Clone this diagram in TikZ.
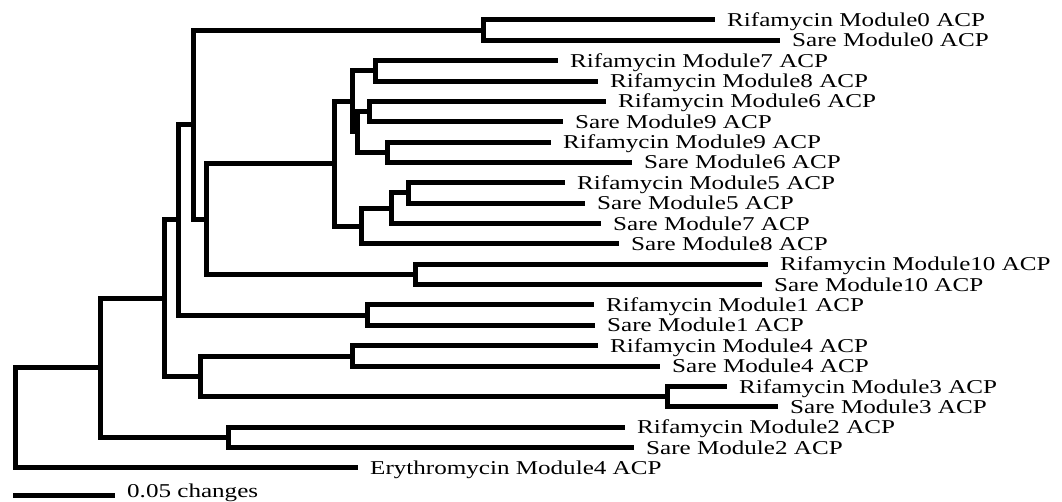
\documentclass[tikz,border=0pt]{standalone}
\usepackage{fontspec}
\setmainfont{Liberation Serif}[FakeStretch=1.28]
\usepackage{tikz}

\tikzset{
  branch/.style={black, line width=5pt},
  taxon/.style={anchor=base west, xshift=12pt, yshift=-6.5pt, font=\fontsize{19.6}{22}\selectfont}
}

\begin{document}
\begin{tikzpicture}[x=1pt, y=1pt]
    \tikzstyle{every node}+=[inner sep=0pt]
    \useasboundingbox (0,0) rectangle (1062,-502);
    % leaf ends
    \coordinate (rif0) at (715,-20);
    \coordinate (sare0) at (780,-40.4);
    \coordinate (rif7) at (558,-60.7);
    \coordinate (rif8) at (598,-81.1);
    \coordinate (rif6) at (606,-101.4);
    \coordinate (sare9) at (563,-121.8);
    \coordinate (rif9) at (551,-142.2);
    \coordinate (sare6) at (632,-162.5);
    \coordinate (rif5) at (565,-182.9);
    \coordinate (sare5) at (585,-203.2);
    \coordinate (sare7) at (601,-223.6);
    \coordinate (sare8) at (619,-244);
    \coordinate (rif10) at (768,-264.3);
    \coordinate (sare10) at (762,-284.7);
    \coordinate (rif1) at (594,-305);
    \coordinate (sare1) at (595,-325.4);
    \coordinate (rif4) at (598,-345.8);
    \coordinate (sare4) at (660,-366.1);
    \coordinate (rif3) at (727,-386.5);
    \coordinate (sare3) at (778,-406.8);
    \coordinate (rif2) at (625,-427.2);
    \coordinate (sare2) at (634,-447.6);
    \coordinate (ery4) at (358,-467.9);
    % inner nodes
    \coordinate (nM) at (483,-30.2);
    \coordinate (nO) at (375,-70.9);
    \coordinate (nP) at (369,-111.6);
    \coordinate (nQ) at (387,-152.4);
    \coordinate (nR) at (357,-132);
    \coordinate (nN) at (352,-101.4);
    \coordinate (nU) at (408,-193);
    \coordinate (nT) at (391,-208.3);
    \coordinate (nS) at (361,-226.2);
    \coordinate (nJ) at (334,-163.8);
    \coordinate (nK) at (415,-274.5);
    \coordinate (nI) at (206,-219.1);
    \coordinate (nD) at (193,-124.7);
    \coordinate (nL) at (367,-315.2);
    \coordinate (nC) at (178,-220);
    \coordinate (nG) at (352,-356);
    \coordinate (nH) at (667,-396.7);
    \coordinate (nF) at (200,-376.3);
    \coordinate (nB) at (164,-298.2);
    \coordinate (nE) at (228,-437.4);
    \coordinate (nA) at (100,-367.8);
    \coordinate (root) at (15,-417.9);
    % scale bar
    \coordinate (bar0) at (13,-495);
    \coordinate (bar1) at (115,-495);
    % taxa
    \node [taxon] (rif0 t) at (rif0) {Rifamycin Module0 ACP};
    \node [taxon] (sare0 t) at (sare0) {Sare Module0 ACP};
    \node [taxon] (rif7 t) at (rif7) {Rifamycin Module7 ACP};
    \node [taxon] (rif8 t) at (rif8) {Rifamycin Module8 ACP};
    \node [taxon] (rif6 t) at (rif6) {Rifamycin Module6 ACP};
    \node [taxon] (sare9 t) at (sare9) {Sare Module9 ACP};
    \node [taxon] (rif9 t) at (rif9) {Rifamycin Module9 ACP};
    \node [taxon] (sare6 t) at (sare6) {Sare Module6 ACP};
    \node [taxon] (rif5 t) at (rif5) {Rifamycin Module5 ACP};
    \node [taxon] (sare5 t) at (sare5) {Sare Module5 ACP};
    \node [taxon] (sare7 t) at (sare7) {Sare Module7 ACP};
    \node [taxon] (sare8 t) at (sare8) {Sare Module8 ACP};
    \node [taxon] (rif10 t) at (rif10) {Rifamycin Module10 ACP};
    \node [taxon] (sare10 t) at (sare10) {Sare Module10 ACP};
    \node [taxon] (rif1 t) at (rif1) {Rifamycin Module1 ACP};
    \node [taxon] (sare1 t) at (sare1) {Sare Module1 ACP};
    \node [taxon] (rif4 t) at (rif4) {Rifamycin Module4 ACP};
    \node [taxon] (sare4 t) at (sare4) {Sare Module4 ACP};
    \node [taxon] (rif3 t) at (rif3) {Rifamycin Module3 ACP};
    \node [taxon] (sare3 t) at (sare3) {Sare Module3 ACP};
    \node [taxon] (rif2 t) at (rif2) {Rifamycin Module2 ACP};
    \node [taxon] (sare2 t) at (sare2) {Sare Module2 ACP};
    \node [taxon] (ery4 t) at (ery4) {Erythromycin Module4 ACP};
    \node [taxon, yshift=4.5pt] (bar t) at (bar1) {0.05 changes};
    % branches
    \draw [branch] (nM) |- (rif0);
    \draw [branch] (nM) |- (sare0);
    \draw [branch] (nO) |- (rif7);
    \draw [branch] (nO) |- (rif8);
    \draw [branch] (nP) |- (rif6);
    \draw [branch] (nP) |- (sare9);
    \draw [branch] (nQ) |- (rif9);
    \draw [branch] (nQ) |- (sare6);
    \draw [branch] (nR) |- (nP);
    \draw [branch] (nR) |- (nQ);
    \draw [branch] (nN) |- (nO);
    \draw [branch] (nN) |- (nR);
    \draw [branch] (nU) |- (rif5);
    \draw [branch] (nU) |- (sare5);
    \draw [branch] (nT) |- (nU);
    \draw [branch] (nT) |- (sare7);
    \draw [branch] (nS) |- (nT);
    \draw [branch] (nS) |- (sare8);
    \draw [branch] (nJ) |- (nN);
    \draw [branch] (nJ) |- (nS);
    \draw [branch] (nK) |- (rif10);
    \draw [branch] (nK) |- (sare10);
    \draw [branch] (nI) |- (nJ);
    \draw [branch] (nI) |- (nK);
    \draw [branch] (nD) |- (nM);
    \draw [branch] (nD) |- (nI);
    \draw [branch] (nL) |- (rif1);
    \draw [branch] (nL) |- (sare1);
    \draw [branch] (nC) |- (nD);
    \draw [branch] (nC) |- (nL);
    \draw [branch] (nG) |- (rif4);
    \draw [branch] (nG) |- (sare4);
    \draw [branch] (nH) |- (rif3);
    \draw [branch] (nH) |- (sare3);
    \draw [branch] (nF) |- (nG);
    \draw [branch] (nF) |- (nH);
    \draw [branch] (nB) |- (nC);
    \draw [branch] (nB) |- (nF);
    \draw [branch] (nE) |- (rif2);
    \draw [branch] (nE) |- (sare2);
    \draw [branch] (nA) |- (nB);
    \draw [branch] (nA) |- (nE);
    \draw [branch] (root) |- (nA);
    \draw [branch] (root) |- (ery4);
    \draw [branch] (bar0) -- (bar1);
\end{tikzpicture}
\end{document}
